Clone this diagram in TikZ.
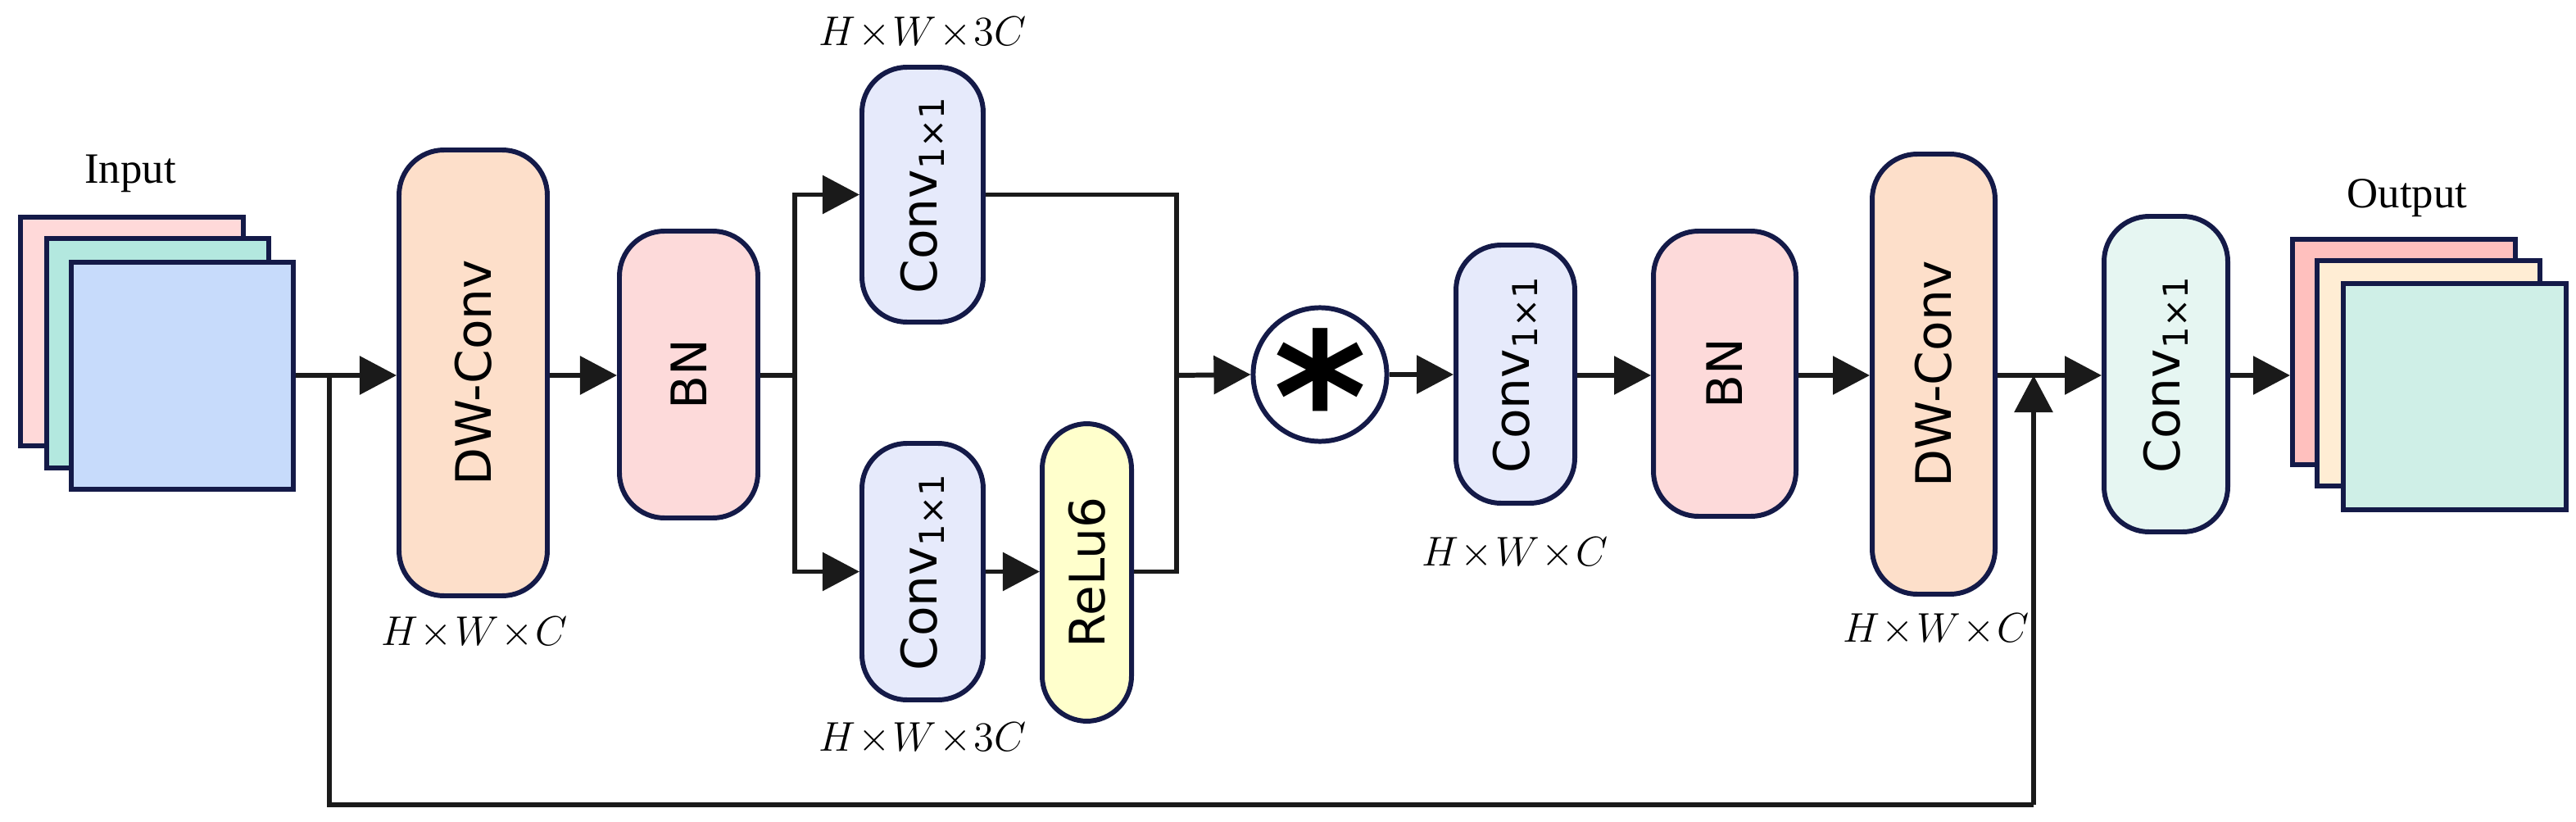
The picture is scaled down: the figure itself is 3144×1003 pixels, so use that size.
\documentclass[tikz,border=0pt]{standalone}
\usepackage{fontspec}
\setmainfont{Liberation Serif}
\newfontfamily\boxfont{DejaVu Sans}
\usetikzlibrary{arrows.meta}
\definecolor{bd}{HTML}{141A48}
\definecolor{cDW}{HTML}{FDDFCA}
\definecolor{cBN}{HTML}{FDDADA}
\definecolor{cCV}{HTML}{E6EAFB}
\definecolor{cRL}{HTML}{FFFFCC}
\definecolor{cCL}{HTML}{E6F6F2}
\definecolor{iP}{HTML}{FFD9D9}
\definecolor{iG}{HTML}{B3E8DF}
\definecolor{iB}{HTML}{C7DBFB}
\definecolor{oP}{HTML}{FFC0BE}
\definecolor{oY}{HTML}{FFEDD4}
\definecolor{oC}{HTML}{CFEFE7}
\definecolor{ln}{HTML}{1A1A1A}
\begin{document}
\begin{tikzpicture}[x=0.01cm,y=-0.01cm,
  blk/.style={draw=bd,line width=1.7pt,rounded corners=0.55cm,inner sep=0pt,font=\boxfont\fontsize{17}{17}\selectfont},
  sq/.style={draw=bd,line width=1.7pt,inner sep=0pt},
  lbl/.style={font=\fontsize{15}{15}\selectfont\itshape,inner sep=0pt},
  ttl/.style={font=\fontsize{15}{15}\selectfont,inner sep=0pt},
  con/.style={draw=ln,line width=1.7pt},
  arr/.style={con,-{Triangle[length=0.45cm,width=0.46cm]}}]
\useasboundingbox (0,0) rectangle (3144,1003);
% boxes helper: x1,y1,x2,y2
\newcommand{\mybox}[7]{\node[blk,fill=#6,minimum width=#3*0.01cm-#1*0.01cm,minimum height=#4*0.01cm-#2*0.01cm] (#5) at ({(#1+#3)/2},{(#2+#4)/2}) {\rotatebox{90}{#7}};}
\newcommand{\mysq}[6]{\node[sq,fill=#6,minimum width=#3*0.01cm-#1*0.01cm,minimum height=#4*0.01cm-#2*0.01cm] (#5) at ({(#1+#3)/2},{(#2+#4)/2}) {};}
% input stack
\mysq{25}{265}{297}{544}{in1}{iP}
\mysq{57}{291}{328}{571}{in2}{iG}
\mysq{87}{320}{358}{597}{in3}{iB}
\node[ttl] (tin) at (159,212) {Input};
% blocks
\mybox{487}{183}{668}{727}{dw1}{cDW}{DW-Conv}
\mybox{756}{282}{925}{632}{bn1}{cBN}{BN}
\mybox{1052}{82}{1200}{393}{cA}{cCV}{Conv\textsubscript{1×1}}
\mybox{1052}{541}{1200}{854}{cB}{cCV}{Conv\textsubscript{1×1}}
\mybox{1272}{517}{1381}{880}{rl}{cRL}{ReLu6}
\node[draw=bd,line width=1.7pt,circle,minimum size=1.63cm,inner sep=0pt] (mul) at (1611,457) {};
\node[inner sep=0pt,font=\boxfont\bfseries\fontsize{62}{62}\selectfont] (ast) at (1611,482) {*};
\mybox{1777}{299}{1922}{614}{cM}{cCV}{Conv\textsubscript{1×1}}
\mybox{2018}{282}{2192}{630}{bn2}{cBN}{BN}
\mybox{2285}{188}{2435}{725}{dw2}{cDW}{DW-Conv}
\mybox{2568}{264}{2719}{649}{cL}{cCL}{Conv\textsubscript{1×1}}
% output stack
\mysq{2798}{292}{3070}{567}{out1}{oP}
\mysq{2828}{318}{3100}{593}{out2}{oY}
\mysq{2860}{346}{3132}{622}{out3}{oC}
\node[ttl] (tout) at (2938,242) {Output};
% labels
\node[lbl] (l1) at (579,772) {$H\!\times\! W\!\times\! C$};
\node[lbl] (l2) at (1126,40) {$H\!\times\! W\!\times\! 3C$};
\node[lbl] (l3) at (1126,901) {$H\!\times\! W\!\times\! 3C$};
\node[lbl] (l4) at (1849,675) {$H\!\times\! W\!\times\! C$};
\node[lbl] (l5) at (2363,768) {$H\!\times\! W\!\times\! C$};
% coordinates
\coordinate (b1) at (402,458);
\coordinate (s1) at (970,458);
\coordinate (m1) at (1436,458);
\coordinate (j2) at (2482,458);
\coordinate (d1) at (402,982);
\coordinate (d2) at (2482,982);
% connectors
\draw[arr] (in3.east|-b1) -- (dw1.west|-b1);
\draw[arr] (dw1.east|-b1) -- (bn1.west|-b1);
\draw[con] (bn1.east|-b1) -- (s1);
\draw[arr] (s1) |- (cA.west);
\draw[arr] (s1) |- (cB.west);
\draw[arr] (cB.east) -- (rl.west|-cB.east);
\draw[con] (cA.east) -| (m1);
\draw[con] (rl.east|-cB.east) -| (m1);
\draw[arr] (m1) -- (mul.west);
\draw[arr] (mul.east) -- (cM.west|-mul.east);
\draw[arr] (cM.east|-b1) -- (bn2.west|-b1);
\draw[arr] (bn2.east|-b1) -- (dw2.west|-b1);
\draw[arr] (dw2.east|-b1) -- (cL.west|-b1);
\draw[arr] (cL.east|-b1) -- (out1.west|-b1);
\draw[con] (b1) -- (d1) -- (d2);
\draw[arr] (d2) -- (j2);
\end{tikzpicture}
\end{document}
